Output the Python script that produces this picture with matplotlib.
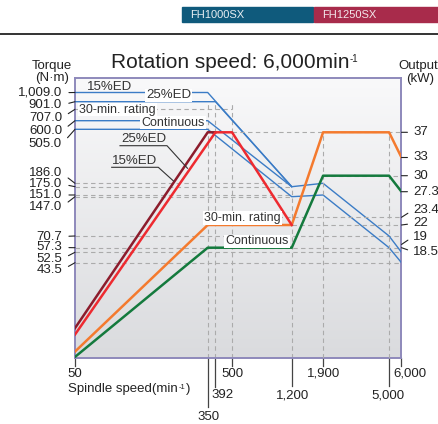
import numpy as np
import matplotlib
matplotlib.use('Agg')
import matplotlib.pyplot as plt
from matplotlib.patches import Rectangle
from matplotlib.colors import LinearSegmentedColormap

plt.rcParams['font.family'] = ['Liberation Sans', 'DejaVu Sans']

# spindle speed (min-1)
speed_ticks = [50, 350, 392, 500, 1200, 1900, 5000, 6000]

# torque (N*m), left axis
tq_15_x = [50, 350, 1200]
tq_15 = [1009, 1009, 175]
tq_25_x = [50, 392, 1200]
tq_25 = [901, 901, 175]
tq_30_x = [50, 350, 1200, 1900, 5000, 6000]
tq_30 = [600, 600, 175, 186, 70.7, 52.5]
tq_cont_x = [50, 350, 1200, 1900, 5000, 6000]
tq_cont = [505, 505, 147, 151, 57.3, 43.5]

# output (kW), right axis
out_15_x = [50, 350, 392]
out_15 = [5.3, 37, 37]
out_25_x = [50, 392, 500, 1200]
out_25 = [4.7, 37, 37, 22]
out_30_x = [50, 350, 1200, 1900, 5000, 6000]
out_30 = [3.1, 22, 22, 37, 37, 33]
out_cont_x = [50, 350, 1200, 1900, 5000, 6000]
out_cont = [2.6, 18.5, 18.5, 30, 30, 27.3]

torque_ticks = [1009.0, 901.0, 707.0, 600.0, 505.0, 186.0, 175.0, 151.0, 147.0,
                70.7, 57.3, 52.5, 43.5]
output_ticks = [37, 33, 30, 27.3, 23.4, 22, 19, 18.5]

# ---- layout (pixels, measured from top-left) ----
W, H = 439, 424
L, R, B, T = 75, 401.5, 358, 78

# schematic (non uniform) vertical scales of the catalogue chart
tq_scale_v = [20, 43.5, 52.5, 57.3, 70.7, 147, 151, 175, 186, 505, 600, 707, 901, 1009, 1300]
tq_scale_p = [358, 262.7, 252.3, 247.7, 236, 196.7, 195, 186.7, 183.3, 129.3, 120.7, 109.3, 101.7, 92.5, 78]
out_scale_v = [2.5, 5.5, 18.5, 22, 23.4, 27.3, 30, 33, 37, 48]
out_scale_p = [358, 326, 247.7, 225, 217.3, 191.7, 175.7, 157.5, 132.3, 78]

def make_scale(vals, pix):
    fr = [(B - p) / (B - T) for p in pix]
    fwd = lambda v: np.interp(v, vals, fr)
    inv = lambda f: np.interp(f, fr, vals)
    return fwd, inv

def axf(px, py):
    return ((px - L) / (R - L), (B - py) / (B - T))

fig = plt.figure(figsize=(W / 100, H / 100), dpi=100)
rect = [L / W, 1 - B / H, (R - L) / W, (B - T) / H]

bg = fig.add_axes(rect, zorder=-1)
grad = np.linspace(0, 1, 256).reshape(-1, 1)
bg.imshow(grad, aspect='auto', origin='lower', extent=[0, 1, 0, 1],
          cmap=LinearSegmentedColormap.from_list('bg', ['#dadbde', '#f9f9fa']))
bg.axis('off')

ax = fig.add_axes(rect)
ax.patch.set_visible(False)
ax.set_xscale('log')
ax.set_yscale('function', functions=make_scale(tq_scale_v, tq_scale_p))
ax.set_xlim(50, 6000)
ax.set_ylim(tq_scale_v[0], tq_scale_v[-1])
ax2 = ax.twinx()
ax2.set_yscale('function', functions=make_scale(out_scale_v, out_scale_p))
ax2.set_ylim(out_scale_v[0], out_scale_v[-1])
for a in (ax, ax2):
    a.set_xticks([])
    a.set_xticks([], minor=True)
    a.set_yticks([])
    a.set_yticks([], minor=True)
for s in ax.spines.values():
    s.set_color('#8e89bb')
    s.set_linewidth(1.4)
for s in ax2.spines.values():
    s.set_visible(False)

gc = '#ababab'
gls = (0, (4, 3))
for v, a, b in [(707, 50, 500), (186, 50, 1200), (175, 50, 1200), (151, 50, 1200),
                (147, 50, 1200), (70.7, 50, 6000), (57.3, 50, 6000), (52.5, 50, 6000),
                (43.5, 50, 6000)]:
    ax.hlines(v, a, b, colors=gc, linestyles=gls, lw=0.8, zorder=1)
for v, a, b in [(37, 500, 6000), (30, 1900, 6000), (23.4, 350, 6000), (22, 1200, 6000)]:
    ax2.hlines(v, a, b, colors=gc, linestyles=gls, lw=0.8, zorder=1)
ax.vlines([350, 392, 500, 1200], 20, [901, 901, 901, 175], colors=gc, linestyles=gls, lw=0.8, zorder=1)
ax2.vlines([1900, 5000], 2.5, 37, colors=gc, linestyles=gls, lw=0.8, zorder=1)

blue = '#3b7cc6'
for xs, ys in [(tq_15_x, tq_15), (tq_25_x, tq_25), (tq_30_x, tq_30), (tq_cont_x, tq_cont)]:
    ax.plot(xs, ys, color=blue, lw=1.0, zorder=3)

ax2.plot(out_cont_x, out_cont, color='#147a3d', lw=1.8, zorder=3)
ax2.plot(out_30_x, out_30, color='#f47a2e', lw=1.8, zorder=3)
ax2.plot(out_15_x, out_15, color='#8c1c2c', lw=1.8, zorder=3)
ax2.plot(out_25_x, out_25, color='#ee2a30', lw=1.8, zorder=4)

# labels inside the plot
tc = '#333333'
wb = dict(facecolor='white', edgecolor='none', pad=0.6)
def lab(txt, px, py, size=9.5, box=False, ha='center'):
    ax2.text(*axf(px, py), txt, transform=ax2.transAxes, fontsize=size, color=tc,
             ha=ha, va='center', zorder=6, bbox=wb if box else None)

lab('15%ED', 87, 86.5, ha='left')
lab('25%ED', 168.5, 95.5, box=True)
lab('30-min. rating', 117.5, 109.5, size=9, box=True)
lab('Continuous', 173, 122.5, size=9, box=True)
lab('25%ED', 143.5, 139.5)
lab('15%ED', 135, 161)
lab('30-min. rating', 242.5, 218.3, size=9, box=True)
lab('Continuous', 257, 241.5, size=9, box=True)
for pts in [[(120, 145.7), (167, 145.7), (187.5, 168.3)],
            [(111.7, 167.3), (158.3, 167.3), (173.5, 181)]]:
    xy = np.array([axf(*p) for p in pts])
    ax2.plot(xy[:, 0], xy[:, 1], color=tc, lw=0.8, transform=ax2.transAxes, zorder=6)

# left tick labels with leaders
tq_label_py = [92.7, 105, 117.7, 131, 144, 173.3, 184, 195, 206.7, 236.5, 247.5, 259, 270]
for v, py in zip(torque_ticks, tq_label_py):
    ax.annotate(f'{v:,.1f}', xy=(0, v), xycoords=ax.get_yaxis_transform(),
                xytext=(62, H - py), textcoords='figure pixels', ha='right', va='center',
                fontsize=9.5, color='#222222', annotation_clip=False,
                arrowprops=dict(arrowstyle='-', color='#222222', lw=0.8,
                                shrinkA=3, shrinkB=0, relpos=(1, 0.5)))

# right tick labels with leaders
out_label_py = [132.3, 157.5, 175.7, 191.7, 210, 223.5, 236.7, 251.7]
for v, py in zip(output_ticks, out_label_py):
    ax2.annotate(f'{v:g}', xy=(1, v), xycoords=ax2.get_yaxis_transform(),
                 xytext=(413, H - py), textcoords='figure pixels', ha='left', va='center',
                 fontsize=9.5, color='#222222', annotation_clip=False,
                 arrowprops=dict(arrowstyle='-', color='#222222', lw=0.8,
                                 shrinkA=2, shrinkB=0, relpos=(0, 0.5)))

# x ticks: (tick line length px, label dx px, label y px)
x_tick_fmt = {50: (8, 0, 374), 350: (49, 0.5, 417), 392: (29, 7, 395), 500: (8, 0, 374),
              1200: (28, 1, 395), 1900: (8, 1, 374), 5000: (28, -1, 395), 6000: (8, 8, 374)}
tr = ax.get_xaxis_transform()
for s in speed_ticks:
    ln, dx, py = x_tick_fmt[s]
    ax.plot([s, s], [0, -ln / (B - T)], transform=tr, clip_on=False, color='#444444', lw=0.9)
    ax.annotate(f'{s:,}', xy=(s, 0), xycoords=tr, xytext=(dx, -(py - B)),
                textcoords='offset pixels', ha='center', va='center', fontsize=9.5,
                color='#222222', annotation_clip=False)

def sup(base, txt, size):
    # small superscript glued to the upper right of another text
    return ax.annotate(txt, xy=(1, 1), xycoords=base, xytext=(0.5, -1),
                       textcoords='offset pixels', ha='left', va='top', fontsize=size,
                       color='#222222', annotation_clip=False)

xl = fig.text(68 / W, 1 - 389 / H, 'Spindle speed(min', fontsize=9.5, color='#222222',
              ha='left', va='center')
s1 = sup(xl, '-1', 5.5)
ax.annotate(')', xy=(1, 0.5), xycoords=(s1, xl), xytext=(0.5, 0), textcoords='offset pixels',
            ha='left', va='center', fontsize=9.5, color='#222222', annotation_clip=False)

fig.text(52 / W, 1 - 66 / H, 'Torque', fontsize=9.5, color='#222222', ha='center', va='center')
fig.text(52 / W, 1 - 78.5 / H, '(N·m)', fontsize=9.5, color='#222222', ha='center', va='center')
fig.text(438 / W, 1 - 66 / H, 'Output', fontsize=9.5, color='#222222', ha='right', va='center')
fig.text(420 / W, 1 - 79 / H, '(kW)', fontsize=9.5, color='#222222', ha='center', va='center')
tt = fig.text(230 / W, 1 - 62 / H, 'Rotation speed: 6,000min', fontsize=15, color='#222222',
              ha='center', va='center')
sup(tt, '-1', 7)

# header
fig.add_artist(plt.Line2D([0, 1], [1 - 34 / H] * 2, color='#111111', lw=1.2))
fig.add_artist(Rectangle((182 / W, 1 - 22.3 / H), 131 / W, 15 / H, color='#0f5a7c',
                         transform=fig.transFigure))
fig.add_artist(Rectangle((314.5 / W, 1 - 22.3 / H), 125 / W, 15 / H, color='#a82b4b',
                         transform=fig.transFigure))
fig.text(190 / W, 1 - 15 / H, 'FH1000SX', fontsize=8, color='#e8eef2', ha='left', va='center')
fig.text(322 / W, 1 - 15 / H, 'FH1250SX', fontsize=8, color='#f2e6ea', ha='left', va='center')

fig.savefig('out.png', dpi=100)
